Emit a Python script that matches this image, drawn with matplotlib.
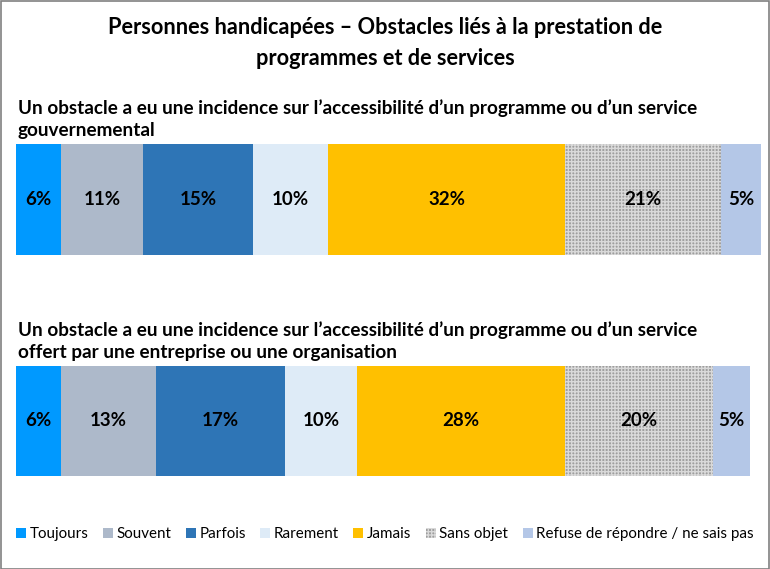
import matplotlib.pyplot as plt
from matplotlib.patches import Rectangle

plt.rcParams['font.family'] = ['Lato', 'DejaVu Sans']
plt.rcParams['hatch.linewidth'] = 1.0

title = "Personnes handicapées – Obstacles liés à la prestation de\nprogrammes et de services"
questions = [
    "Un obstacle a eu une incidence sur l’accessibilité d’un programme ou d’un service\ngouvernemental",
    "Un obstacle a eu une incidence sur l’accessibilité d’un programme ou d’un service\noffert par une entreprise ou une organisation",
]
categories = ['Toujours', 'Souvent', 'Parfois', 'Rarement', 'Jamais',
              'Sans objet', 'Refuse de répondre / ne sais pas']
gouvernemental = [6.0, 10.9, 14.7, 10.0, 31.6, 20.8, 5.4]
entreprise = [6.0, 12.7, 17.1, 9.7, 27.7, 19.7, 5.0]
labels_gouv = ['6%', '11%', '15%', '10%', '32%', '21%', '5%']
labels_entr = ['6%', '13%', '17%', '10%', '28%', '20%', '5%']

colors = ['#0099FF', '#ADB9CA', '#2E75B6', '#DEEBF7', '#FFC000', '#9E9E9E', '#B4C7E7']
hatches = [None, None, None, None, None, '+++++', None]

W, H = 770, 569
fig = plt.figure(figsize=(W / 100, H / 100), dpi=100)
fig.patches.append(Rectangle((0.5 / W, 0.5 / H), 1 - 1.5 / W, 1 - 1.5 / H,
                             transform=fig.transFigure, fill=False,
                             edgecolor='#808080', linewidth=1.2))

fig.text(0.5, 1 - 43 / H, title, ha='center', va='center', fontsize=15.7,
         fontweight='bold', linespacing=1.55)

# bar boxes in pixels: (top, bottom)
boxes = [(144, 255), (366, 476)]
subtitle_y = [119, 341]
series = [gouvernemental, entreprise]
series_labels = [labels_gouv, labels_entr]

handles = []
for k in range(2):
    top, bot = boxes[k]
    ax = fig.add_axes([16 / W, 1 - bot / H, 750 / W, (bot - top) / H])
    left = 0
    for i, v in enumerate(series[k]):
        b = ax.barh(0, v, left=left, height=1, color=colors[i],
                    hatch=hatches[i],
                    edgecolor='#D9D9D9' if hatches[i] else colors[i],
                    linewidth=0, label=categories[i])
        if k == 0:
            handles.append(b)
        ax.text(left + v / 2, 0, series_labels[k][i], ha='center', va='center',
                fontsize=13.5, fontweight='bold', color='black')
        left += v
    ax.set_xlim(0, 100)
    ax.set_ylim(-0.5, 0.5)
    ax.axis('off')
    fig.text(18 / W, 1 - subtitle_y[k] / H, questions[k], ha='left', va='center',
             fontsize=13.6, fontweight='bold', linespacing=1.32)

fig.legend(handles=handles, labels=categories, loc='center',
           bbox_to_anchor=(0.5, 1 - 534 / H), ncol=7, frameon=False,
           fontsize=10.9, handlelength=0.65, handleheight=0.65,
           handletextpad=0.25, columnspacing=0.95)

fig.savefig('out.png', dpi=100)
